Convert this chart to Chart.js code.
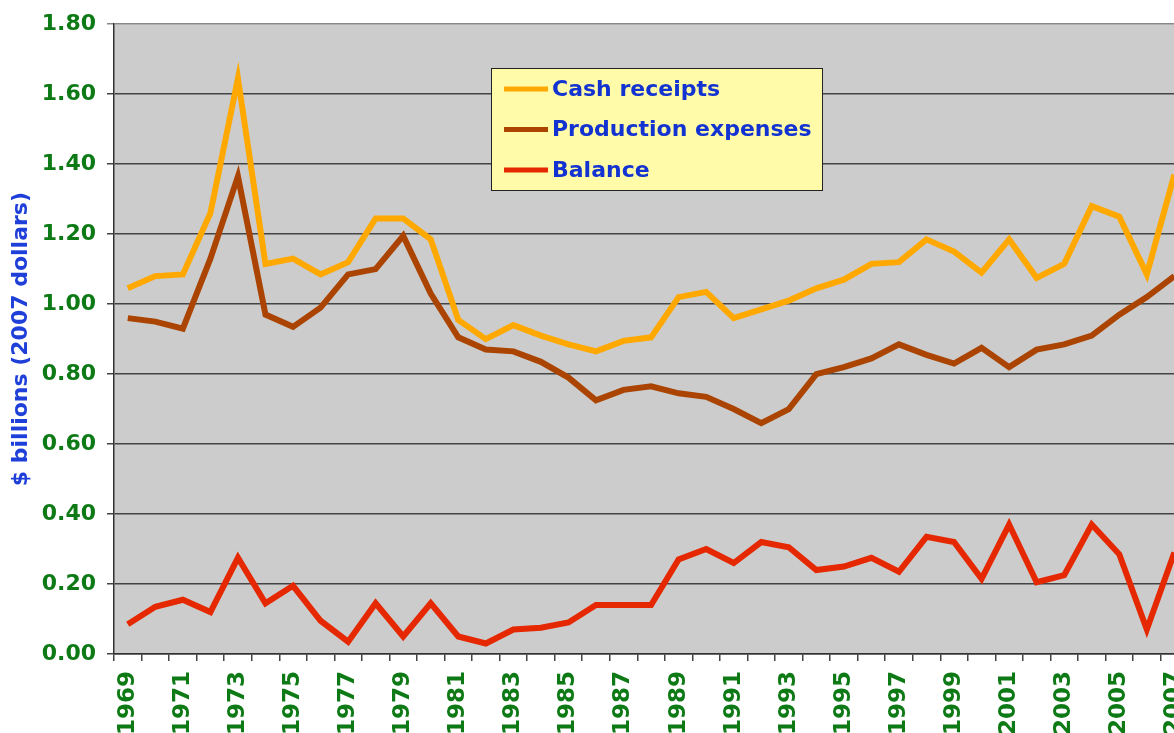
<!DOCTYPE html>
<html>
<head>
<meta charset="utf-8">
<script src="https://cdn.jsdelivr.net/npm/chart.js@4.4.1/dist/chart.umd.min.js"></script>
<style>
  html, body { margin: 0; padding: 0; background: #ffffff; overflow: hidden; }
  #wrap { position: relative; width: 1212px; height: 733px; }
</style>
</head>
<body>
<div id="wrap"><canvas id="c"></canvas></div>
<script>
const years = ['1969','1970','1971','1972','1973','1974','1975','1976','1977','1978','1979','1980','1981','1982','1983','1984','1985','1986','1987','1988','1989','1990','1991','1992','1993','1994','1995','1996','1997','1998','1999','2000','2001','2002','2003','2004','2005','2006','2007'];

const cashReceipts = [1.045,1.08,1.085,1.26,1.645,1.115,1.13,1.085,1.12,1.245,1.245,1.185,0.955,0.90,0.94,0.91,0.885,0.865,0.895,0.905,1.02,1.035,0.96,0.985,1.01,1.045,1.07,1.115,1.12,1.185,1.15,1.09,1.185,1.075,1.115,1.28,1.25,1.085,1.37];

const productionExpenses = [0.96,0.95,0.93,1.13,1.365,0.97,0.935,0.99,1.085,1.10,1.195,1.03,0.905,0.87,0.865,0.835,0.79,0.725,0.755,0.765,0.745,0.735,0.70,0.66,0.70,0.80,0.82,0.845,0.885,0.855,0.83,0.875,0.82,0.87,0.885,0.91,0.97,1.02,1.08];

const balance = [0.085,0.135,0.155,0.12,0.275,0.145,0.195,0.095,0.035,0.145,0.05,0.145,0.05,0.03,0.07,0.075,0.09,0.14,0.14,0.14,0.27,0.30,0.26,0.32,0.305,0.24,0.25,0.275,0.235,0.335,0.32,0.215,0.37,0.205,0.225,0.37,0.285,0.07,0.29];

const seriesNames = ['Cash receipts', 'Production expenses', 'Balance'];
const seriesColors = ['#FFA800', '#AA4400', '#E62800'];
const yAxisTitle = '$ billions (2007 dollars)';

const FONT = "'DejaVu Sans', Verdana, sans-serif";

const plotBg = {
  id: 'plotBg',
  beforeDraw(chart) {
    const { ctx, chartArea: a } = chart;
    ctx.save();
    ctx.fillStyle = '#CCCCCC';
    ctx.fillRect(a.left, a.top, a.right - a.left, a.bottom - a.top);
    ctx.restore();
  }
};

const boxLegend = {
  id: 'boxLegend',
  afterDatasetsDraw(chart) {
    const { ctx } = chart;
    const x = 491, y = 68, w = 331, h = 122;
    ctx.save();
    ctx.fillStyle = '#FFFBA8';
    ctx.fillRect(x, y, w, h);
    ctx.strokeStyle = '#222222';
    ctx.lineWidth = 1;
    ctx.strokeRect(x + 0.5, y + 0.5, w, h);
    ctx.font = 'bold 22px ' + FONT;
    ctx.textBaseline = 'middle';
    chart.data.datasets.forEach((ds, i) => {
      const cy = 89 + i * 40.5;
      ctx.strokeStyle = ds.borderColor;
      ctx.lineWidth = 5;
      ctx.beginPath();
      ctx.moveTo(504, cy);
      ctx.lineTo(548, cy);
      ctx.stroke();
      ctx.fillStyle = '#1232D2';
      ctx.fillText(ds.label, 552, cy + 1);
    });
    ctx.restore();
  }
};

new Chart(document.getElementById('c'), {
  type: 'line',
  data: {
    labels: years,
    datasets: [
      { label: seriesNames[0], data: cashReceipts, borderColor: seriesColors[0] },
      { label: seriesNames[1], data: productionExpenses, borderColor: seriesColors[1] },
      { label: seriesNames[2], data: balance, borderColor: seriesColors[2] }
    ].map(d => Object.assign(d, { borderWidth: 6, pointRadius: 0, tension: 0, fill: false, backgroundColor: d.borderColor }))
  },
  options: {
    responsive: true,
    maintainAspectRatio: false,
    animation: false,
    layout: { padding: { left: 8, top: 23, right: 3, bottom: 0 } },
    plugins: { legend: { display: false }, tooltip: { enabled: false } },
    scales: {
      x: {
        offset: true,
        afterFit(scale) { scale.height = 79; },
        grid: { display: true, offset: true, drawOnChartArea: false, drawTicks: true, tickLength: 7, color: '#444444', lineWidth: 1.5 },
        border: { display: true, color: '#333333', width: 1.5 },
        ticks: {
          autoSkip: false,
          minRotation: 90,
          maxRotation: 90,
          padding: 10,
          color: '#0E7A16',
          font: { family: FONT, size: 23, weight: 'bold' },
          callback: function(v, i) { return i % 2 === 0 ? this.getLabelForValue(v) : ''; }
        }
      },
      y: {
        min: 0,
        max: 1.8,
        afterFit(scale) { scale.width = 106; },
        grid: {
          color: c => (c.tick && c.tick.value >= 1.8 ? '#888888' : '#444444'),
          lineWidth: 1.5, tickLength: 7, drawTicks: true
        },
        border: { display: true, color: '#333333', width: 1.5 },
        ticks: {
          stepSize: 0.2,
          padding: 11,
          color: '#0E7A16',
          font: { family: FONT, size: 22, weight: 'bold' },
          callback: v => Number(v).toFixed(2)
        },
        title: {
          display: true,
          text: yAxisTitle,
          color: '#1F3FD9',
          font: { family: FONT, size: 22, weight: 'bold' },
          padding: { top: 0, bottom: 6 }
        }
      }
    }
  },
  plugins: [plotBg, boxLegend]
});
</script>
</body>
</html>
